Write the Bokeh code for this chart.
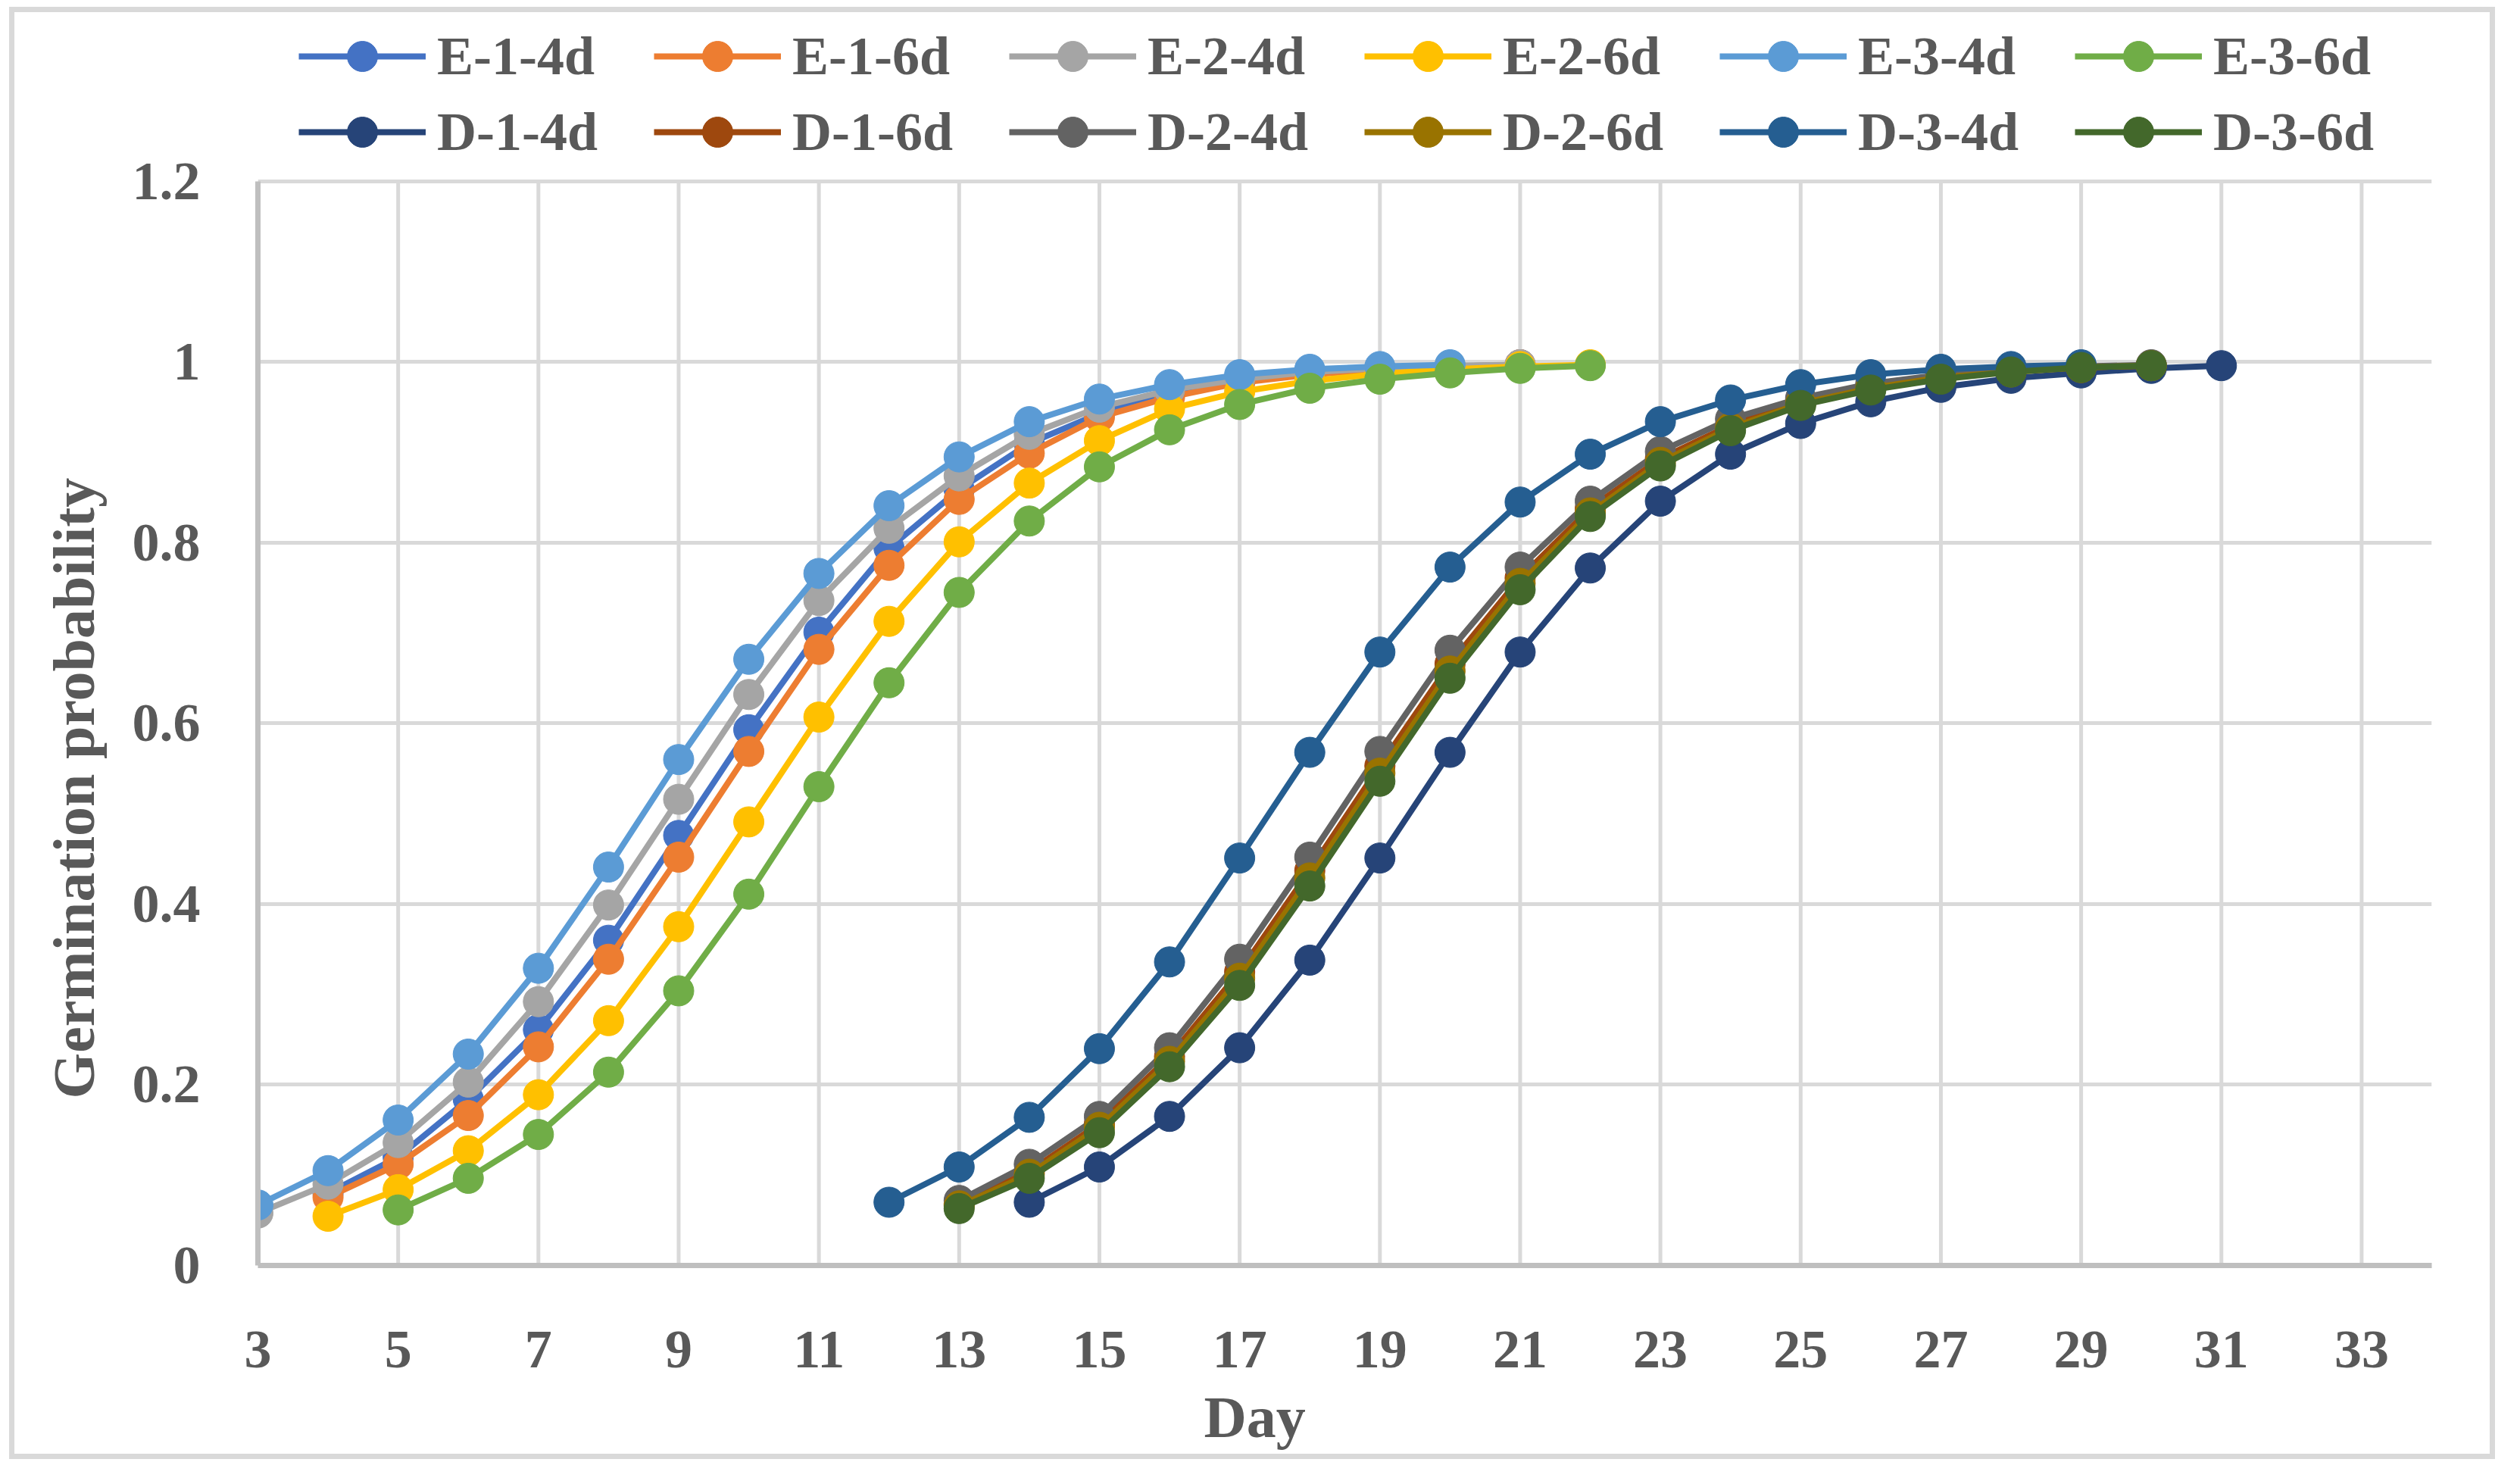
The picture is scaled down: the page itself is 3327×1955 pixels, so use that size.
from bokeh.plotting import figure
from bokeh.models import Range1d, FixedTicker, Legend, LegendItem, Title
from bokeh.embed import file_html
from bokeh.resources import INLINE

# ---------------- data ----------------
series_names = ["E-1-4d", "E-1-6d", "E-2-4d", "E-2-6d", "E-3-4d", "E-3-6d",
                "D-1-4d", "D-1-6d", "D-2-4d", "D-2-6d", "D-3-4d", "D-3-6d"]
series_colors = ["#4472C4", "#ED7D31", "#A5A5A5", "#FFC000", "#5B9BD5", "#70AD47",
                 "#264478", "#9E480E", "#636363", "#997300", "#255E91", "#43682B"]
series_first_day = [4, 4, 3, 4, 3, 5, 14, 13, 13, 13, 12, 13]

E_1_4d = [0.080, 0.120, 0.184, 0.261, 0.360, 0.476, 0.593, 0.701, 0.794, 0.859,
          0.910, 0.943, 0.965, 0.979, 0.987, 0.992, 0.995, 0.997]
E_1_6d = [0.0755, 0.112, 0.166, 0.242, 0.339, 0.452, 0.569, 0.682, 0.775, 0.848,
          0.899, 0.939, 0.961, 0.977, 0.986, 0.992, 0.995, 0.997]
E_2_4d = [0.058, 0.090, 0.136, 0.203, 0.292, 0.399, 0.516, 0.632, 0.736, 0.816,
          0.874, 0.920, 0.950, 0.969, 0.981, 0.989, 0.993, 0.996, 0.997]
E_2_6d = [0.0545, 0.084, 0.127, 0.189, 0.271, 0.375, 0.491, 0.607, 0.713, 0.801,
          0.866, 0.913, 0.948, 0.967, 0.979, 0.987, 0.992, 0.995, 0.997]
E_3_4d = [0.067, 0.105, 0.161, 0.234, 0.329, 0.441, 0.560, 0.671, 0.766, 0.841,
          0.895, 0.934, 0.959, 0.975, 0.986, 0.992, 0.995, 0.997]
E_3_6d = [0.0615, 0.0965, 0.145, 0.214, 0.304, 0.411, 0.530, 0.645, 0.745, 0.824,
          0.884, 0.925, 0.953, 0.971, 0.981, 0.988, 0.993, 0.996]
D_1_4d = [0.070, 0.109, 0.165, 0.241, 0.338, 0.451, 0.568, 0.679, 0.772, 0.846,
          0.898, 0.932, 0.956, 0.972, 0.982, 0.988, 0.993, 0.996]
D_1_6d = [0.068, 0.104, 0.157, 0.231, 0.325, 0.437, 0.553, 0.666, 0.761, 0.838,
          0.893, 0.930, 0.956, 0.973, 0.984, 0.990, 0.994, 0.996]
D_2_4d = [0.072, 0.112, 0.165, 0.241, 0.339, 0.452, 0.569, 0.681, 0.773, 0.846,
          0.901, 0.937, 0.960, 0.976, 0.986, 0.992, 0.995, 0.997]
D_2_6d = [0.066, 0.101, 0.153, 0.226, 0.318, 0.429, 0.545, 0.658, 0.755, 0.833,
          0.889, 0.927, 0.954, 0.971, 0.983, 0.989, 0.994, 0.996]
D_3_4d = [0.070, 0.109, 0.164, 0.240, 0.336, 0.451, 0.568, 0.679, 0.773, 0.845,
          0.898, 0.934, 0.958, 0.975, 0.986, 0.992, 0.995, 0.997]
D_3_6d = [0.063, 0.0965, 0.147, 0.220, 0.310, 0.420, 0.536, 0.650, 0.748, 0.829,
          0.885, 0.924, 0.952, 0.969, 0.981, 0.989, 0.994, 0.996]

series_values = [E_1_4d, E_1_6d, E_2_4d, E_2_6d, E_3_4d, E_3_6d,
                 D_1_4d, D_1_6d, D_2_4d, D_2_6d, D_3_4d, D_3_6d]

x_ticks = [3, 5, 7, 9, 11, 13, 15, 17, 19, 21, 23, 25, 27, 29, 31, 33]
y_ticks = [0, 0.2, 0.4, 0.6, 0.8, 1, 1.2]
y_tick_labels = ["0", "0.2", "0.4", "0.6", "0.8", "1", "1.2"]
x_title = "Day"
y_title = "Germination probability"

# ---------------- layout / style ----------------
FONT = "Liberation Serif"
TXT = "#595959"
FS = "72px"

CANVAS_W, CANVAS_H = 3268, 1903          # inside the 7px chart border
BORDER_L, BORDER_R, BORDER_B = 321, 91, 263
FRAME_H = CANVAS_H - BORDER_B             # frame reaches the top of the canvas
PLOT_TOP = 221                            # where the 1.2 line sits (legend lives above)
y_top = y_ticks[-1] * FRAME_H / (FRAME_H - PLOT_TOP)

p = figure(width=CANVAS_W + 14, height=CANVAS_H + 14,
           x_range=Range1d(3, 34), y_range=Range1d(0, y_top),
           output_backend="svg", toolbar_location=None,
           min_border_left=BORDER_L, min_border_right=BORDER_R,
           min_border_top=0, min_border_bottom=BORDER_B)
p.margin = (9, 0, 0, 12)
p.styles = {"border": "7px solid #d9d9d9"}
p.outline_line_color = None
p.background_fill_color = "white"
p.border_fill_color = "white"

p.xaxis.ticker = FixedTicker(ticks=x_ticks)
p.yaxis.ticker = FixedTicker(ticks=y_ticks)
p.yaxis.bounds = (y_ticks[0], y_ticks[-1])
p.yaxis.major_label_overrides = dict(zip(y_ticks, y_tick_labels))

for ax in (p.xaxis, p.yaxis):
    ax.axis_line_color = "#bfbfbf"
    ax.axis_line_width = 7
    ax.major_tick_line_color = None
    ax.minor_tick_line_color = None
    ax.major_tick_out = 0
    ax.major_tick_in = 0
    ax.major_label_text_font = FONT
    ax.major_label_text_font_style = "bold"
    ax.major_label_text_font_size = FS
    ax.major_label_text_color = TXT
p.xaxis.major_label_standoff = 87
p.yaxis.major_label_standoff = 76

p.ygrid.grid_line_color = "#d9d9d9"
p.ygrid.grid_line_width = 5
p.xgrid.visible = False
# vertical grid lines, limited to the value range 0..1.2
p.segment(x0=x_ticks, y0=[y_ticks[0]] * len(x_ticks),
          x1=x_ticks, y1=[y_ticks[-1]] * len(x_ticks),
          line_color="#d9d9d9", line_width=5)

items = []
for name, color, first, vals in zip(series_names, series_colors, series_first_day, series_values):
    days = list(range(first, first + len(vals)))
    lr = p.line(days, vals, line_color=color, line_width=8)
    sr = p.scatter(days, vals, size=40, fill_color=color, line_color=color, marker="circle")
    items.append(LegendItem(label=name, renderers=[lr, sr]))

legend = Legend(items=items, location=(54, FRAME_H - 194), orientation="horizontal", ncols=6,
                glyph_width=168, glyph_height=100, label_height=100, label_width=286,
                label_standoff=15, spacing=0, padding=0, margin=0,
                border_line_color=None, background_fill_alpha=0,
                label_text_font=FONT, label_text_font_style="bold",
                label_text_font_size=FS, label_text_color=TXT,
                label_text_baseline="middle")
p.add_layout(legend)

tx = Title(text=x_title, align="left", offset=1249, standoff=34,
           text_font=FONT, text_font_style="bold", text_font_size="78px",
           text_color=TXT)
p.add_layout(tx, "below")
ty = Title(text=y_title, align="left", offset=220, standoff=61,
           text_font=FONT, text_font_style="bold", text_font_size="78px",
           text_color=TXT)
p.add_layout(ty, "left")

open("out.html", "w").write(file_html(p, INLINE))
